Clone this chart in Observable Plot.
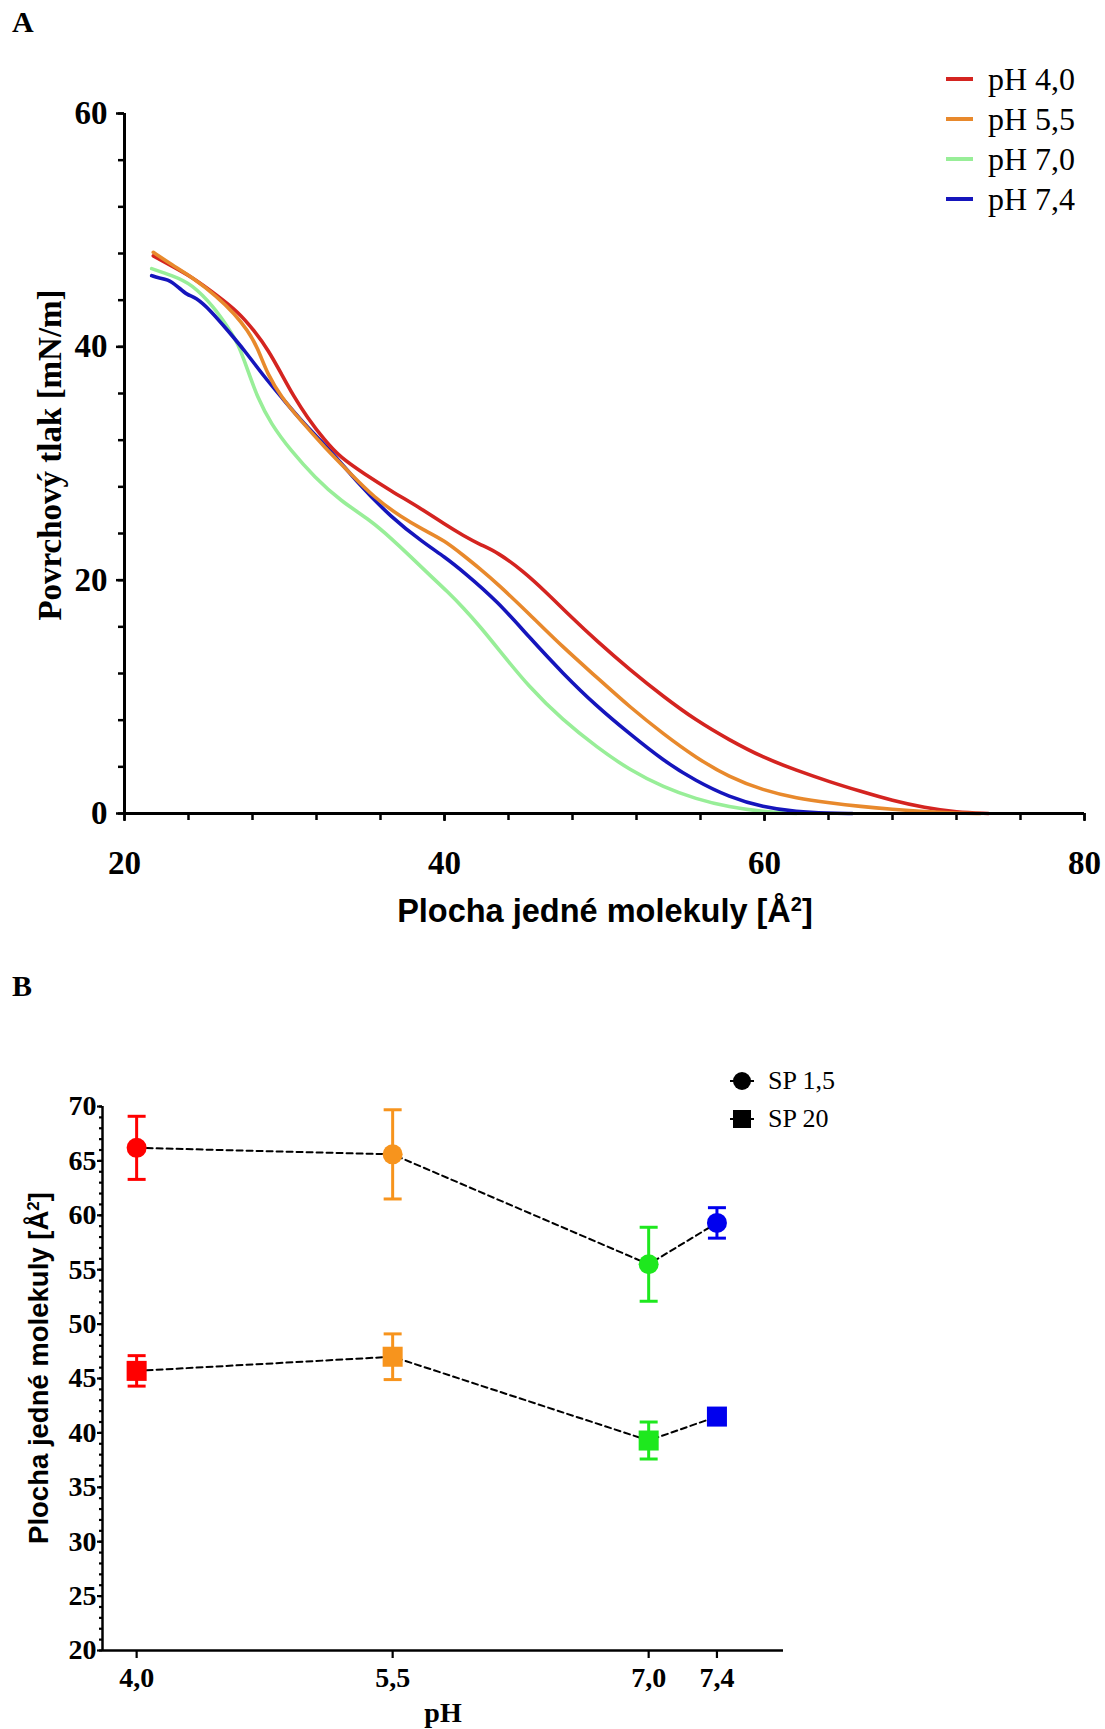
<!DOCTYPE html>
<html>
<head>
<meta charset="utf-8">
<script src="https://cdn.jsdelivr.net/npm/d3@7"></script>
<script src="https://cdn.jsdelivr.net/npm/@observablehq/plot@0.6"></script>
<style>
  html, body { margin: 0; padding: 0; background: white; }
  #page { position: relative; width: 1105px; height: 1729px; background: white; overflow: hidden; }
  .abs { position: absolute; white-space: nowrap; color: black; }
  .serif { font-family: "Liberation Serif", "Times New Roman", serif; }
  .sans { font-family: "Liberation Sans", Arial, sans-serif; }
  .rot { transform: translate(-50%, -50%) rotate(-90deg); }
  sup { font-size: 0.62em; vertical-align: 0; position: relative; top: -0.55em; }
  .leg { display: flex; align-items: center; }
</style>
</head>
<body>
<div id="page">
  <div id="chartA" class="abs" style="left:0;top:0;"></div>
  <div id="chartB" class="abs" style="left:0;top:950px;"></div>

  <div class="abs serif" style="left:12px;top:5px;font-size:30px;font-weight:bold;">A</div>
  <div class="abs serif" style="left:12px;top:969px;font-size:30px;font-weight:bold;">B</div>

  <div class="abs serif rot" style="left:50px;top:455px;font-size:33px;font-weight:bold;">Povrchový tlak [mN/m]</div>
  <div class="abs sans" style="left:605px;top:911px;transform:translate(-50%,-50%);font-size:32.5px;font-weight:bold;">Plocha jedné molekuly [Å<sup>2</sup>]</div>

  <div class="abs sans rot" style="left:39px;top:1368px;font-size:27.5px;font-weight:bold;">Plocha jedné molekuly [Å<sup>2</sup>]</div>
  <div class="abs serif" style="left:443px;top:1713px;transform:translate(-50%,-50%);font-size:28px;font-weight:bold;">pH</div>

  <div id="legendA" class="abs serif" style="left:944px;top:59px;font-size:32px;line-height:40px;"></div>
  <div id="legendB" class="abs serif" style="left:729px;top:1062px;font-size:26px;line-height:38px;"></div>
</div>
<script>
// ---------- Chart A data: surface pressure isotherms ----------
const seriesA = ["pH 4,0", "pH 5,5", "pH 7,0", "pH 7,4"];
const colorsA = ["#d42420", "#e8892c", "#98ee98", "#1515bc"];

const xA40 = [21.8, 23.0, 24.2, 25.8, 27.1, 28.1, 29.0, 29.8, 30.6, 31.4, 32.5, 33.5, 35.0, 36.6, 38.7, 40.0, 41.2, 42.3, 43.3, 44.9, 46.4, 47.8, 49.5, 51.6, 53.7, 55.7, 57.8, 59.9, 62.0, 64.1, 66.0, 68.0, 70.0, 72.0, 74.0];
const yA40 = [47.8, 46.9, 46.0, 44.4, 43.0, 41.4, 39.7, 37.7, 35.7, 34.0, 32.0, 30.5, 29.1, 27.7, 26.0, 24.8, 23.8, 23.0, 22.4, 20.8, 18.9, 17.0, 14.8, 12.3, 10.0, 8.0, 6.3, 4.8, 3.7, 2.7, 1.9, 1.1, 0.5, 0.1, 0.0];

const xA55 = [21.8, 23.0, 24.2, 25.8, 26.9, 27.7, 28.3, 28.95, 29.8, 31.0, 32.5, 34.15, 35.6, 37.3, 38.7, 40.0, 41.2, 42.2, 43.3, 45.3, 47.4, 49.5, 51.6, 53.7, 55.7, 57.8, 59.9, 62.0, 64.1, 66.0, 68.0, 70.0, 72.0, 73.5];
const yA55 = [48.1, 47.0, 46.0, 44.3, 42.8, 41.4, 40.0, 37.6, 35.7, 33.7, 31.4, 29.1, 27.1, 25.4, 24.3, 23.4, 22.1, 21.0, 19.7, 17.1, 14.25, 11.7, 9.1, 6.8, 4.8, 3.1, 2.0, 1.3, 0.9, 0.6, 0.35, 0.15, 0.03, 0.0];

const xA70 = [21.7, 23.0, 24.2, 25.6, 26.45, 27.1, 27.7, 28.3, 29.15, 30.4, 31.9, 33.5, 35.4, 36.65, 37.9, 39.1, 40.2, 41.2, 42.3, 43.3, 45.3, 47.4, 49.5, 51.6, 53.7, 55.7, 57.8, 59.9, 62.0];
const yA70 = [46.7, 46.1, 45.4, 43.4, 41.7, 40.3, 38.0, 35.7, 33.4, 31.1, 28.8, 26.8, 25.1, 23.6, 22.0, 20.4, 19.0, 17.6, 15.9, 14.2, 10.8, 8.0, 5.7, 3.7, 2.25, 1.25, 0.54, 0.14, 0.0];

const xA74 = [21.7, 22.1, 22.7, 23.3, 23.95, 24.4, 25.4, 26.45, 27.5, 28.75, 29.8, 31.2, 32.9, 34.6, 36.65, 38.7, 40.0, 41.2, 43.3, 45.3, 47.4, 49.5, 51.6, 53.7, 55.7, 57.8, 59.9, 62.0, 64.0, 65.5];
const yA74 = [46.1, 45.9, 45.8, 45.2, 44.4, 44.3, 43.1, 41.4, 39.7, 37.4, 35.7, 33.4, 31.1, 28.3, 25.4, 23.2, 22.0, 20.7, 18.2, 15.1, 12.0, 9.2, 6.8, 4.5, 2.8, 1.4, 0.54, 0.14, 0.02, 0.0];

const xTicksA = [20, 40, 60, 80];
const yTicksA = [0, 20, 40, 60];

// ---------- Chart B data: area per molecule vs pH ----------
const phValues = [4.0, 5.5, 7.0, 7.4];
const phLabels = ["4,0", "5,5", "7,0", "7,4"];
const colorsB = ["#ff0000", "#f7941d", "#1ee81e", "#0000ee"];
const seriesB = ["SP 1,5", "SP 20"];
const sp15Mean = [66.2, 65.6, 55.5, 59.3];
const sp15Err  = [2.9, 4.1, 3.4, 1.4];
const sp20Mean = [45.7, 47.0, 39.3, 41.5];
const sp20Err  = [1.4, 2.1, 1.7, 0.5];
const yTicksB = [20, 25, 30, 35, 40, 45, 50, 55, 60, 65, 70];

// ---------- build tables ----------
const xsA = [xA40, xA55, xA70, xA74];
const ysA = [yA40, yA55, yA70, yA74];
const dataA = [];
seriesA.forEach((s, i) => xsA[i].forEach((x, j) => dataA.push({series: s, x, y: ysA[i][j]})));
const drawOrderA = ["pH 7,0", "pH 7,4", "pH 4,0", "pH 5,5"];

const dataB = [];
phValues.forEach((ph, i) => {
  dataB.push({series: seriesB[0], ph, label: phLabels[i], mean: sp15Mean[i], err: sp15Err[i]});
  dataB.push({series: seriesB[1], ph, label: phLabels[i], mean: sp20Mean[i], err: sp20Err[i]});
});

// ---------- Chart A ----------
const serif = "'Liberation Serif', 'Times New Roman', serif";
const chartA = Plot.plot({
  width: 1105, height: 950,
  marginTop: 113, marginBottom: 137, marginLeft: 124, marginRight: 21,
  x: {domain: [20, 80], label: null},
  y: {domain: [0, 60], label: null},
  color: {domain: seriesA, range: colorsA},
  style: {fontFamily: serif, color: "black", background: "white", overflow: "visible"},
  marks: [
    Plot.axisY(d3.range(0, 61, 4), {tickSize: 6, tickFormat: () => "", strokeWidth: 2.5, label: null}),
    Plot.axisY(yTicksA, {tickSize: 8, tickPadding: 9, strokeWidth: 2.5, fontSize: 33, fontWeight: "bold", label: null}),
    Plot.axisX(d3.range(20, 81, 4), {tickSize: 7, tickFormat: () => "", strokeWidth: 2.5, label: null}),
    Plot.axisX(xTicksA, {tickSize: 8, tickPadding: 29, strokeWidth: 2.5, fontSize: 33, fontWeight: "bold", label: null}),
    ...drawOrderA.map(s => Plot.line(dataA.filter(d => d.series === s), {
      x: "x", y: "y", stroke: "series", strokeWidth: 3.6, curve: "basis"
    })),
    Plot.ruleX([20], {strokeWidth: 3}),
    Plot.ruleY([0], {strokeWidth: 3})
  ]
});
document.getElementById("chartA").appendChild(chartA);

// ---------- Chart B ----------
const capSymbol = {
  draw(context, size) {
    const w = Math.sqrt(size / Math.PI);
    context.moveTo(-w, 0);
    context.lineTo(w, 0);
  }
};
const chartB = Plot.plot({
  width: 1105, height: 779,
  marginTop: 156, marginBottom: 79, marginLeft: 102, marginRight: 322,
  x: {domain: [3.8, 7.79], label: null},
  y: {domain: [20, 70], label: null},
  color: {domain: phLabels, range: colorsB},
  style: {fontFamily: serif, color: "black", background: "white", overflow: "visible"},
  marks: [
    Plot.axisY(d3.range(20, 71, 1), {tickSize: 3, tickFormat: () => "", strokeWidth: 2.2, label: null}),
    Plot.axisY(yTicksB, {tickSize: 5, tickPadding: 1, strokeWidth: 2.2, fontSize: 28, fontWeight: "bold", label: null}),
    Plot.axisX(phValues, {tickSize: 8, tickPadding: 9, strokeWidth: 2.2, fontSize: 28, fontWeight: "bold",
      tickFormat: d => d.toFixed(1).replace(".", ","), label: null}),
    Plot.ruleX([3.8], {strokeWidth: 2.5}),
    Plot.ruleY([20], {strokeWidth: 2.5}),
    Plot.line(dataB, {x: "ph", y: "mean", z: "series", stroke: "black", strokeWidth: 2, strokeDasharray: "6,4"}),
    Plot.ruleX(dataB, {x: "ph", y1: d => d.mean - d.err, y2: d => d.mean + d.err, stroke: "label", strokeWidth: 3}),
    Plot.dot(dataB, {x: "ph", y: d => d.mean + d.err, symbol: capSymbol, r: 9, fill: "none", stroke: "label", strokeWidth: 3}),
    Plot.dot(dataB, {x: "ph", y: d => d.mean - d.err, symbol: capSymbol, r: 9, fill: "none", stroke: "label", strokeWidth: 3}),
    Plot.dot(dataB.filter(d => d.series === "SP 1,5"), {x: "ph", y: "mean", symbol: "circle", r: 10, fill: "label", stroke: "none"}),
    Plot.dot(dataB.filter(d => d.series === "SP 20"), {x: "ph", y: "mean", symbol: "square", r: 11.3, fill: "label", stroke: "none"})
  ]
});
document.getElementById("chartB").appendChild(chartB);

// ---------- legends ----------
const legA = document.getElementById("legendA");
seriesA.forEach((s, i) => {
  const row = document.createElement("div");
  row.className = "leg";
  row.innerHTML = `<svg width="30" height="40" style="margin-right:14px"><line x1="2" x2="29" y1="20" y2="20" stroke="${colorsA[i]}" stroke-width="4"/></svg><span>${s}</span>`;
  legA.appendChild(row);
});
const legB = document.getElementById("legendB");
seriesB.forEach((s, i) => {
  const row = document.createElement("div");
  row.className = "leg";
  const marker = i === 0
    ? `<circle cx="13" cy="19" r="9" fill="black"/>`
    : `<rect x="4" y="10" width="18" height="18" fill="black"/>`;
  row.innerHTML = `<svg width="26" height="38" style="margin-right:13px"><line x1="1" x2="25" y1="19" y2="19" stroke="black" stroke-width="2"/>${marker}</svg><span>${s}</span>`;
  legB.appendChild(row);
});
</script>
</body>
</html>
